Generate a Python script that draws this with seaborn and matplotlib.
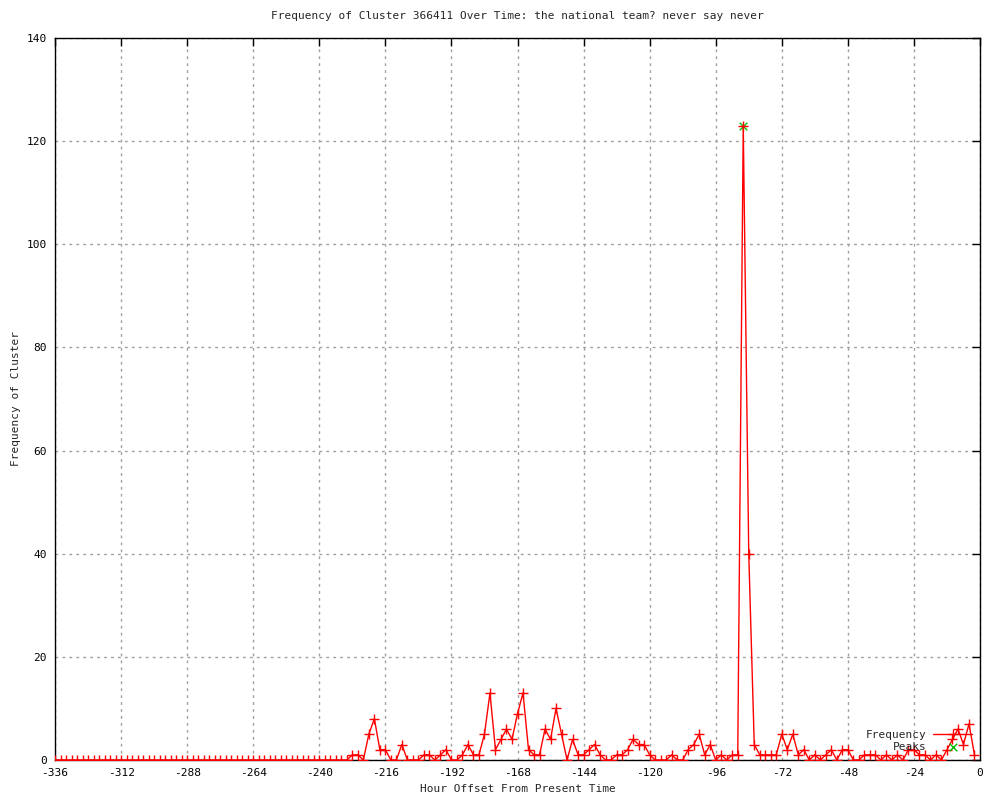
import matplotlib
matplotlib.use('Agg')
import matplotlib.pyplot as plt
import seaborn as sns

# hours before now, one sample every two hours
hours = list(range(-336, 0, 2))
freq = [0] * 54 + [
    1, 1, 0, 5, 8, 2, 2, 0, 0, 3,
    0, 0, 0, 1, 1, 0, 1, 2, 0, 0,
    1, 3, 1, 1, 5, 13, 2, 4, 6, 4,
    9, 13, 2, 1, 1, 6, 4, 10, 5, 0,
    4, 1, 1, 2, 3, 1, 0, 0, 1, 1,
    2, 4, 3, 3, 1, 0, 0, 0, 1, 0,
    0, 2, 3, 5, 1, 3, 0, 1, 0, 1,
    1, 123, 40, 3, 1, 1, 1, 1, 5, 2,
    5, 1, 2, 0, 1, 0, 1, 2, 0, 2,
    2, 0, 0, 1, 1, 1, 0, 1, 0, 1,
    0, 2, 2, 1, 1, 0, 1, 0, 2, 4,
    6, 3, 7, 1,
]
peak_hours = [-86]
peak_vals = [123]

sns.set_style('white')
plt.rcParams['font.family'] = ['DejaVu Sans Mono']
plt.rcParams['font.size'] = 8
plt.rcParams['axes.unicode_minus'] = False

fig = plt.figure(figsize=(10, 8), dpi=100)
ax = fig.add_axes([0.055, 0.05, 0.925, 0.9025])

sns.scatterplot(x=peak_hours, y=peak_vals, ax=ax, marker='x', color='#00c000',
                s=30, linewidth=1, label='Peaks', zorder=2)
sns.lineplot(x=hours, y=freq, ax=ax, color='red', linewidth=1, marker='+',
             markersize=7, markeredgewidth=1, markeredgecolor='red',
             label='Frequency', zorder=3)

ax.set_xlim(-336, 0)
ax.set_ylim(0, 140)
ax.set_xticks(range(-336, 1, 24))
ax.set_yticks(range(0, 141, 20))
ax.tick_params(direction='in', top=True, right=True, length=6, width=1,
               labelsize=8, colors='black', pad=6)
ax.grid(True, color='#a0a0a0', linestyle=(0, (2, 3)), linewidth=1)
for s in ax.spines.values():
    s.set_color('black')
    s.set_linewidth(1)

ax.set_title('Frequency of Cluster 366411 Over Time: the national team? never say never',
             fontsize=8, pad=14)
ax.set_xlabel('Hour Offset From Present Time', fontsize=8)
ax.set_ylabel('Frequency of Cluster', fontsize=8)

h, l = ax.get_legend_handles_labels()
order = [l.index('Frequency'), l.index('Peaks')]
ax.legend([h[i] for i in order], [l[i] for i in order], loc='lower right',
          frameon=False, markerfirst=False, fontsize=8, handlelength=3.5,
          borderaxespad=0.3, labelspacing=0.2, handletextpad=0.6)

fig.savefig('out.png', dpi=100)
